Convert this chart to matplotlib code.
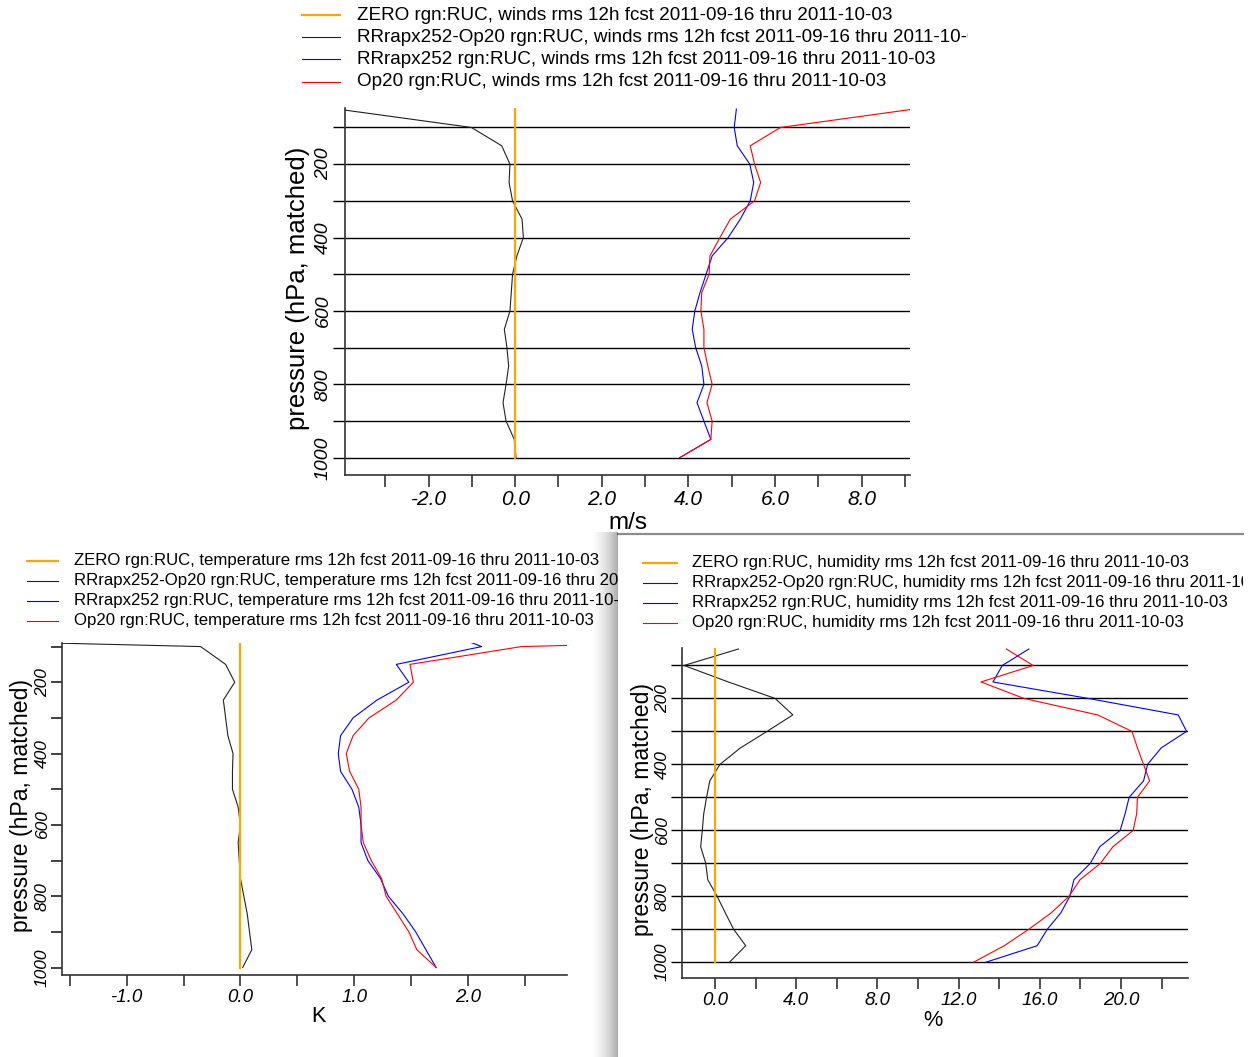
import numpy as np
import matplotlib
matplotlib.use('Agg')
import matplotlib.pyplot as plt
from matplotlib.lines import Line2D
from matplotlib.patches import Rectangle
from matplotlib.transforms import Bbox, TransformedBbox

plt.rcParams['font.family'] = ['Liberation Sans', 'DejaVu Sans']

# pressure levels (hPa)
levels = [50, 100, 150, 200, 250, 300, 350, 400, 450, 500,
          550, 600, 650, 700, 750, 800, 850, 900, 950, 1000]

# winds rms (m/s)
wind_diff = [-4.1, -1.01, -0.31, -0.12, -0.14, -0.06, 0.16, 0.19, 0.04, -0.06,
             -0.09, -0.12, -0.25, -0.19, -0.15, -0.21, -0.28, -0.21, -0.02, 0.02]
wind_rr = [5.11, 5.06, 5.13, 5.42, 5.51, 5.43, 5.20, 4.92, 4.55, 4.41,
           4.27, 4.15, 4.09, 4.17, 4.31, 4.36, 4.20, 4.36, 4.52, 3.80]
wind_op = [9.2, 6.13, 5.43, 5.53, 5.67, 5.53, 4.97, 4.73, 4.50, 4.48,
           4.31, 4.29, 4.36, 4.36, 4.45, 4.55, 4.43, 4.55, 4.52, 3.80]

# temperature rms (K)
temp_diff = [-6.9, -0.35, -0.13, -0.05, -0.15, -0.13, -0.11, -0.065, -0.07, -0.07,
             -0.02, 0.0, -0.02, -0.01, 0.0, 0.03, 0.06, 0.08, 0.10, 0.02]
temp_rr = [1.71, 2.12, 1.37, 1.48, 1.20, 0.99, 0.88, 0.86, 0.88, 0.98,
           1.04, 1.06, 1.06, 1.12, 1.23, 1.30, 1.43, 1.54, 1.63, 1.72]
temp_op = [8.6, 2.47, 1.49, 1.52, 1.37, 1.13, 0.99, 0.93, 0.96, 1.04,
           1.06, 1.06, 1.08, 1.15, 1.24, 1.28, 1.38, 1.48, 1.55, 1.72]

# humidity rms (%)
rh_diff = [1.15, -1.53, 0.65, 2.96, 3.83, 2.56, 1.25, 0.24, -0.26, -0.42,
           -0.56, -0.63, -0.71, -0.46, -0.36, 0.10, 0.50, 0.91, 1.51, 0.71]
rh_rr = [15.46, 14.15, 13.69, 18.39, 22.82, 23.23, 21.98, 21.31, 21.11, 20.40,
         20.20, 19.96, 18.95, 18.49, 17.68, 17.48, 17.04, 16.37, 15.87, 13.35]
rh_op = [14.35, 15.67, 13.10, 15.22, 18.85, 20.54, 20.81, 21.11, 21.41, 20.81,
         20.77, 20.60, 19.60, 18.99, 17.98, 17.44, 16.57, 15.46, 14.25, 12.74]

series_names = ['ZERO', 'RRrapx252-Op20', 'RRrapx252', 'Op20']
series_colors = ['#FFA500', '#222222', '#0000FF', '#FF0000']
period = 'rms 12h fcst 2011-09-16 thru 2011-10-03'

W, H = 1255, 1057
fig = plt.figure(figsize=(W / 100, H / 100), dpi=100)


def rect(l, t, r, b):
    return [l / W, 1 - b / H, (r - l) / W, (b - t) / H]


def legend_rows(x0, x1, xt, ys, var, size, zorder, clip_right=None):
    for y, name, c in zip(ys, series_names, series_colors):
        lw = 1.6 if name == 'ZERO' else 0.8
        fig.add_artist(Line2D([x0 / W, x1 / W], [1 - y / H] * 2, transform=fig.transFigure,
                              color=c, lw=lw, zorder=zorder))
        t = fig.text(xt / W, 1 - y / H, f'{name} rgn:RUC, {var} {period}',
                     fontsize=size, va='center', ha='left', zorder=zorder)
        if clip_right:
            # the original screenshot cuts these lines off
            t.set_clip_box(TransformedBbox(Bbox.from_extents(0, 0, clip_right / W, 1), fig.transFigure))
            t.set_clip_on(True)


def profile(ax, diff, rr, op, xlim, ylim, xticks, xlabel_every, grid,
            xsize, ysize, lsize, xlab, tick_px, ylab_x, xlab_y, xlab_x=0.5):
    ax.plot(np.zeros(len(levels)), levels, color=series_colors[0], lw=1.6, zorder=4)
    ax.plot(diff, levels, color=series_colors[1], lw=0.8, zorder=3)
    ax.plot(rr, levels, color=series_colors[2], lw=0.8, zorder=3)
    ax.plot(op, levels, color=series_colors[3], lw=0.8, zorder=3)
    ax.set_xlim(*xlim)
    ax.set_ylim(*ylim)
    for s in ['top', 'right']:
        ax.spines[s].set_visible(False)
    for s in ['left', 'bottom']:
        ax.spines[s].set_color('#333333')
        ax.spines[s].set_linewidth(1.2)
    ax.set_xticks(xticks)
    ax.set_xticklabels([f'{v:.1f}' if round(v / xlabel_every, 6) % 1 == 0 else '' for v in xticks],
                       fontstyle='italic', fontsize=xsize)
    yt = list(range(100, 1001, 100))
    ax.set_yticks(yt)
    ax.set_yticklabels([str(v) if v % 200 == 0 else '' for v in yt],
                       fontstyle='italic', fontsize=ysize, rotation=90, va='center')
    ln = tick_px * 0.72
    ax.tick_params(axis='x', length=ln, width=1.2, color='#333333', pad=2)
    if grid:
        ax.yaxis.grid(True, color='black', lw=1.0)
        ax.tick_params(axis='y', length=ln, width=1.0, color='black', pad=1)
    else:
        ax.tick_params(axis='y', length=ln, width=1.2, color='#222222', pad=1)
    ax.set_axisbelow(True)
    ax.set_ylabel('pressure (hPa, matched)', fontsize=lsize)
    ax.yaxis.label.set_va('center')
    ax.yaxis.set_label_coords(ylab_x, 0.51)
    ax.set_xlabel(xlab, fontsize=lsize - 1)
    ax.xaxis.label.set_va('center')
    ax.xaxis.set_label_coords(xlab_x, xlab_y)


# winds panel
ax1 = fig.add_axes(rect(345, 108, 910, 475))
profile(ax1, wind_diff, wind_rr, wind_op, (-3.93, 9.12), (1047, 47),
        np.arange(-3, 10, 1.0), 2, True, 15, 14, 18.5, 'm/s', 12,
        (298 - 345) / 565, (475 - 523) / 367)
legend_rows(302, 340, 357, [15, 37, 59, 82], 'winds', 13.6, 2, clip_right=968)

# temperature panel
ax2 = fig.add_axes(rect(62, 643, 567, 975))
ax2.set_zorder(1)
profile(ax2, temp_diff, temp_rr, temp_op, (-1.568, 2.87), (1021, 90),
        np.arange(-1.5, 2.51, 0.5), 1, False, 13.5, 12.5, 16.6, 'K', 11,
        (22 - 62) / 505, (975 - 1017) / 332, (318 - 62) / 505)
legend_rows(27, 58, 74, [561, 581, 601, 621], 'temperature', 12.1, 1)

# overlapping window for the humidity plot
fig.add_artist(Rectangle((618 / W, 0), (1243 - 618) / W, (1057 - 533) / H,
                         transform=fig.transFigure, facecolor='white', edgecolor='none', zorder=5))
fig.add_artist(Line2D([618 / W, 1243 / W], [1 - 533.5 / H] * 2, transform=fig.transFigure,
                      color='#8c8c8c', lw=1.6, zorder=6))
sw = 30
ramp = np.linspace(0, 1, sw) ** 1.8 * 0.32
shadow = np.zeros((1057 - 532, sw, 4))
shadow[:, :, 3] = ramp[None, :]
fig.figimage(shadow, xo=588, yo=0, origin='upper', zorder=6)

# humidity panel
ax3 = fig.add_axes(rect(682, 648, 1188, 978))
ax3.set_zorder(7)
ax3.patch.set_alpha(0)
profile(ax3, rh_diff, rh_rr, rh_op, (-1.63, 23.3), (1048, 47),
        np.arange(0, 23, 2.0), 4, True, 13.5, 12.5, 16.6, '%', 11,
        (643 - 682) / 506, (978 - 1021) / 330, (933 - 682) / 506)
legend_rows(643, 677, 692, [563, 583, 603, 623], 'humidity', 12.1, 8, clip_right=1243)

fig.savefig('out.png', dpi=100)
